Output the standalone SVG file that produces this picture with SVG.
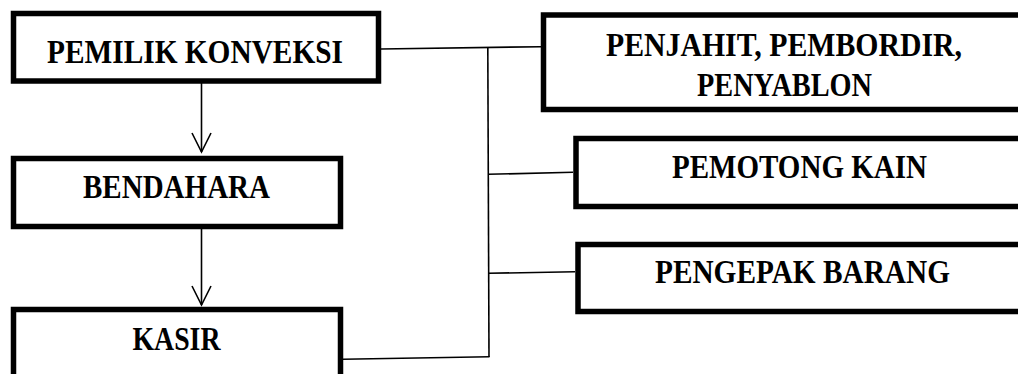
<svg xmlns="http://www.w3.org/2000/svg" width="1018" height="374" viewBox="0 0 1018 374">
<style>
  .box { fill: #ffffff; stroke: #000000; stroke-width: 5.5; }
  .lbl { font-family: "Liberation Serif", "Times New Roman", serif; font-weight: bold; font-size: 33px; fill: #000000; }
  .conn { fill: none; stroke: #000000; stroke-width: 1.6; }
</style>
<defs>
  <marker id="vee" markerUnits="userSpaceOnUse" markerWidth="24" markerHeight="24" viewBox="-21 -12 24 24" refX="0" refY="0" orient="auto" overflow="visible">
    <path d="M-19,-9.5 L0,0 L-19,9.5" fill="none" stroke="#000000" stroke-width="1.6"/>
  </marker>
</defs>
<rect x="0" y="0" width="1018" height="374" fill="#ffffff"/>
<g id="connectors">
  <line class="conn" x1="381" y1="49" x2="541" y2="46.7"/>
  <line class="conn" x1="487.8" y1="47.5" x2="489" y2="357"/>
  <line class="conn" x1="488" y1="174.3" x2="573" y2="172.3"/>
  <line class="conn" x1="488.5" y1="273.3" x2="575" y2="271.7"/>
  <line class="conn" x1="343" y1="359.3" x2="489.5" y2="356.7"/>
  <line class="conn" x1="201.5" y1="83" x2="201.5" y2="152" marker-end="url(#vee)"/>
  <line class="conn" x1="201.5" y1="229" x2="201.5" y2="305" marker-end="url(#vee)"/>
</g>
<g id="node-pemilik">
  <rect class="box" x="13.5" y="13.5" width="365" height="67.5"/>
  <text class="lbl" x="47" y="63" textLength="296" lengthAdjust="spacingAndGlyphs">PEMILIK KONVEKSI</text>
</g>
<g id="node-bendahara">
  <rect class="box" x="13.5" y="158.5" width="327" height="68"/>
  <text class="lbl" x="83" y="198" textLength="187" lengthAdjust="spacingAndGlyphs">BENDAHARA</text>
</g>
<g id="node-kasir">
  <rect class="box" x="13.5" y="309.5" width="327" height="80"/>
  <text class="lbl" x="132.5" y="350" textLength="88" lengthAdjust="spacingAndGlyphs">KASIR</text>
</g>
<g id="node-penjahit">
  <rect class="box" x="543.5" y="15" width="500" height="94.5"/>
  <text class="lbl" x="606" y="56" textLength="356" lengthAdjust="spacingAndGlyphs">PENJAHIT, PEMBORDIR,</text>
  <text class="lbl" x="697" y="95.7" textLength="175" lengthAdjust="spacingAndGlyphs">PENYABLON</text>
</g>
<g id="node-pemotong">
  <rect class="box" x="576" y="138.5" width="470" height="68"/>
  <text class="lbl" x="672" y="178.3" textLength="255" lengthAdjust="spacingAndGlyphs">PEMOTONG KAIN</text>
</g>
<g id="node-pengepak">
  <rect class="box" x="578" y="244.5" width="470" height="67"/>
  <text class="lbl" x="655" y="283.3" textLength="295" lengthAdjust="spacingAndGlyphs">PENGEPAK BARANG</text>
</g>
</svg>
